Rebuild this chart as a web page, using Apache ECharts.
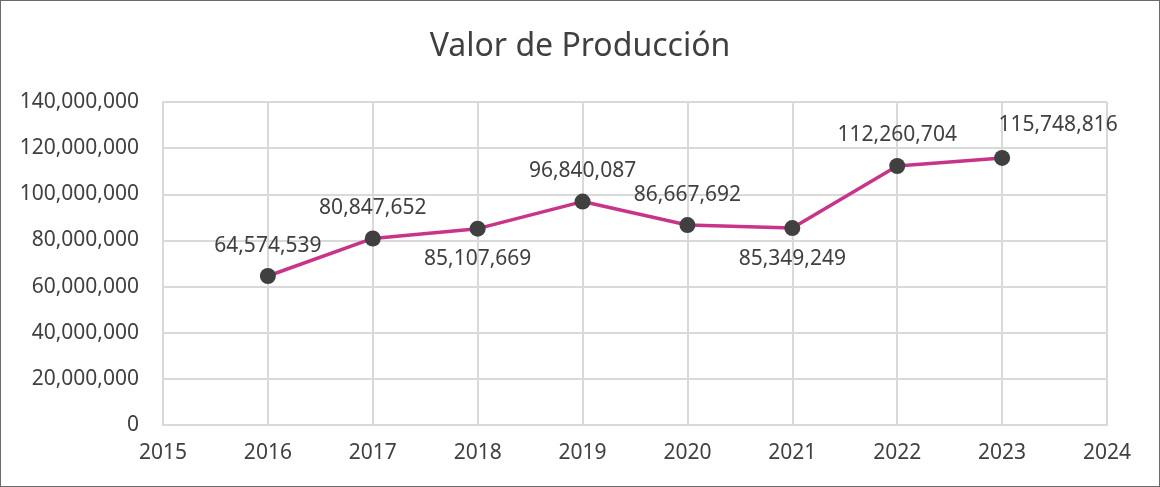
<!DOCTYPE html>
<html>
<head>
<meta charset="utf-8">
<script src="https://cdn.jsdelivr.net/npm/echarts@6/dist/echarts.min.js"></script>
<style>
  html, body { margin: 0; padding: 0; background: #fff; }
  #chart { width: 1160px; height: 487px; box-sizing: border-box; border: 1px solid #6b6b6b; }
</style>
</head>
<body>
<div id="chart"></div>
<script>
var years = [2016, 2017, 2018, 2019, 2020, 2021, 2022, 2023]
var valores = [64574539, 80847652, 85107669, 96840087, 86667692, 85349249, 112260704, 115748816]

var fmt = function(v){
    return Math.round(v).toString().replace(/\B(?=(\d{3})+(?!\d))/g, ",")
}

// where each data label sits, like the original
var abajo = { 2018: true, 2021: true }

var data = years.map(function(y, i){
    var item = { value: [y, valores[i]] }
    if (abajo[y]) {
        item.label = { position: "bottom", distance: 12 }
    } else if (y === 2023) {
        item.label = { position: "top", distance: 14, offset: [56, 0] }
    } else {
        item.label = { position: "top", distance: 12 }
    }
    return item
})

var chart = echarts.init(document.getElementById("chart"))
var option = {
    animation: false,
    textStyle: { fontFamily: "Noto Sans" },
    title: {
        text: "Valor de Producción",
        left: "center",
        top: 25,
        textStyle: { fontFamily: "Noto Sans", fontSize: 32, fontWeight: "normal", color: "#404040" }
    },
    grid: { left: 162, right: 52, top: 101, bottom: 61 },
    xAxis: {
        type: "value",
        min: 2015,
        max: 2024,
        interval: 1,
        axisLine: { show: true, lineStyle: { color: "#d9d9d9", width: 2 } },
        axisTick: { show: false },
        splitLine: { show: true, lineStyle: { color: "#d9d9d9", width: 2 } },
        axisLabel: { color: "#404040", fontSize: 21, margin: 18, formatter: function(v){ return String(v) } }
    },
    yAxis: {
        type: "value",
        min: 0,
        max: 140000000,
        interval: 20000000,
        axisLine: { show: true, lineStyle: { color: "#d9d9d9", width: 2 } },
        axisTick: { show: false },
        splitLine: { show: true, lineStyle: { color: "#d9d9d9", width: 2 } },
        axisLabel: { color: "#404040", fontSize: 21, margin: 24, formatter: fmt }
    },
    series: [{
        type: "line",
        data: data,
        symbol: "circle",
        symbolSize: 16,
        lineStyle: { color: "#c8348a", width: 3.5 },
        itemStyle: { color: "#404040" },
        label: {
            show: true,
            color: "#404040",
            fontSize: 21,
            formatter: function(p){ return fmt(p.value[1]) }
        }
    }]
}
chart.setOption(option)
</script>
</body>
</html>
